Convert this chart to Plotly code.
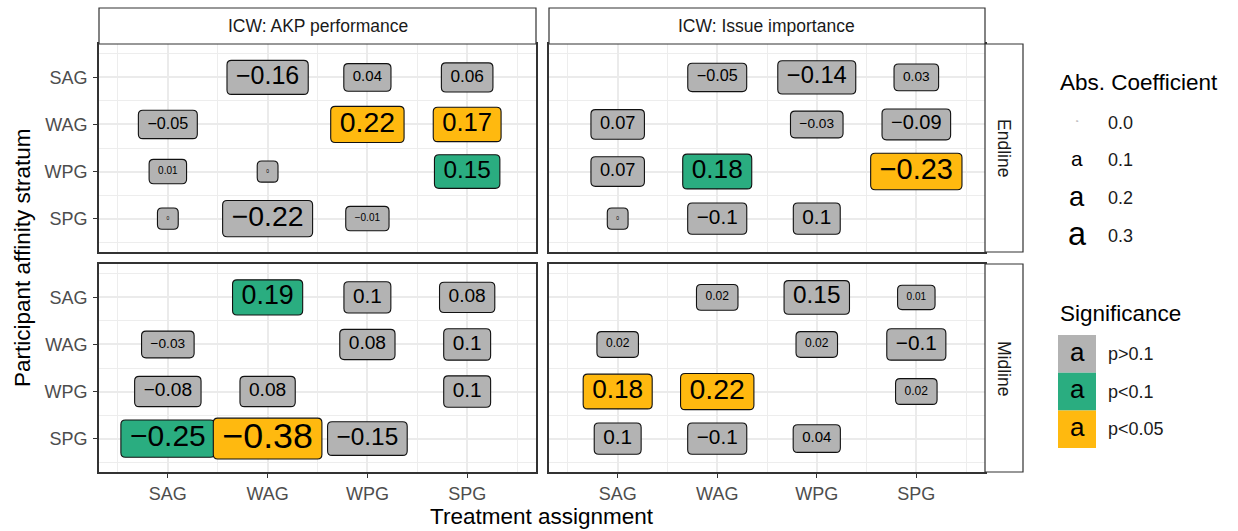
import math
import plotly.graph_objects as go

W, H = 1238, 531
FONT = "Liberation Sans, Arial, sans-serif"

strata = ["SAG", "WAG", "WPG", "SPG"]          # treatment (x) and participant stratum (y)
outcomes = ["ICW: AKP performance", "ICW: Issue importance"]
waves = ["Endline", "Midline"]
sig_levels = ["p>0.1", "p<0.1", "p<0.05"]
sig_colors = {"p>0.1": "#B3B3B3", "p<0.1": "#2AAD80", "p<0.05": "#FFB90F"}
size_legend_values = [0.0, 0.1, 0.2, 0.3]

# rows = participant stratum (SAG, WAG, WPG, SPG); columns = treatment (SAG, WAG, WPG, SPG)
akp_endline_coef = [[None, -0.16, 0.04, 0.06],
                    [-0.05, None, 0.22, 0.17],
                    [0.01, 0.0, None, 0.15],
                    [0.0, -0.22, -0.01, None]]
akp_endline_sig = [[None, "p>0.1", "p>0.1", "p>0.1"],
                   ["p>0.1", None, "p<0.05", "p<0.05"],
                   ["p>0.1", "p>0.1", None, "p<0.1"],
                   ["p>0.1", "p>0.1", "p>0.1", None]]

issue_endline_coef = [[None, -0.05, -0.14, 0.03],
                      [0.07, None, -0.03, -0.09],
                      [0.07, 0.18, None, -0.23],
                      [0.0, -0.1, 0.1, None]]
issue_endline_sig = [[None, "p>0.1", "p>0.1", "p>0.1"],
                     ["p>0.1", None, "p>0.1", "p>0.1"],
                     ["p>0.1", "p<0.1", None, "p<0.05"],
                     ["p>0.1", "p>0.1", "p>0.1", None]]

akp_midline_coef = [[None, 0.19, 0.1, 0.08],
                    [-0.03, None, 0.08, 0.1],
                    [-0.08, 0.08, None, 0.1],
                    [-0.25, -0.38, -0.15, None]]
akp_midline_sig = [[None, "p<0.1", "p>0.1", "p>0.1"],
                   ["p>0.1", None, "p>0.1", "p>0.1"],
                   ["p>0.1", "p>0.1", None, "p>0.1"],
                   ["p<0.1", "p<0.05", "p>0.1", None]]

issue_midline_coef = [[None, 0.02, 0.15, 0.01],
                      [0.02, None, 0.02, -0.1],
                      [0.18, 0.22, None, 0.02],
                      [0.1, -0.1, 0.04, None]]
issue_midline_sig = [[None, "p>0.1", "p>0.1", "p>0.1"],
                     ["p>0.1", None, "p>0.1", "p>0.1"],
                     ["p<0.05", "p<0.05", None, "p>0.1"],
                     ["p>0.1", "p>0.1", "p>0.1", None]]

panels = {  # (row, col)
    (0, 0): (akp_endline_coef, akp_endline_sig),
    (0, 1): (issue_endline_coef, issue_endline_sig),
    (1, 0): (akp_midline_coef, akp_midline_sig),
    (1, 1): (issue_midline_coef, issue_midline_sig),
}

# ---------- layout geometry (pixels) ----------
def fx(px):
    return px / W


def fy(py):
    return 1 - py / H


col_px = [(99, 536), (549, 985)]
row_px = [(44, 252), (264, 472)]
strip_top = (8, 44)
strip_right = (985, 1023)


def fsize(v):
    return 5 + 50 * math.sqrt(abs(v))


def fmt(v):
    s = f"{abs(v):g}"
    return ("\u2212" + s) if v < 0 else s


CW = {"0": 0.556, "1": 0.556, "2": 0.556, "3": 0.556, "4": 0.556, "5": 0.556,
      "6": 0.556, "7": 0.556, "8": 0.556, "9": 0.556, ".": 0.278, "\u2212": 0.584}


def text_w(s, fs):
    return sum(CW.get(ch, 0.556) for ch in s) * fs


def rrect_path(w, h, r=4.5):
    x0, x1, y0, y1 = -w / 2, w / 2, -h / 2, h / 2
    p = (f"M{x0 + r:.2f},{y0:.2f} L{x1 - r:.2f},{y0:.2f} Q{x1:.2f},{y0:.2f} {x1:.2f},{y0 + r:.2f} "
         f"L{x1:.2f},{y1 - r:.2f} Q{x1:.2f},{y1:.2f} {x1 - r:.2f},{y1:.2f} "
         f"L{x0 + r:.2f},{y1:.2f} Q{x0:.2f},{y1:.2f} {x0:.2f},{y1 - r:.2f} "
         f"L{x0:.2f},{y0 + r:.2f} Q{x0:.2f},{y0:.2f} {x0 + r:.2f},{y0:.2f} Z")
    return p


def ann(text, px, py, size, color="black", xanchor="center", yanchor="middle", angle=0):
    return dict(text=text, xref="paper", yref="paper", x=fx(px), y=fy(py),
                xanchor=xanchor, yanchor=yanchor, textangle=angle, showarrow=False,
                font=dict(size=size, color=color, family=FONT))


fig = go.Figure()
shapes = []
annotations = []

pos = {s: i + 1 for i, s in enumerate(strata)}
for (r, c), (coef, sig) in panels.items():
    k = r * 2 + c + 1
    xa = "x" if k == 1 else f"x{k}"
    ya = "y" if k == 1 else f"y{k}"
    xs, ys, txt, sizes = [], [], [], []
    for i, ystr in enumerate(strata):
        for j, xstr in enumerate(strata):
            v = coef[i][j]
            if v is None:
                continue
            lab = fmt(v)
            fs = fsize(v)
            xs.append(pos[xstr])
            ys.append(pos[ystr])
            txt.append(lab)
            sizes.append(fs)
            w = text_w(lab, fs) + 18
            h = 18 + 0.64 * fs
            shapes.append(dict(type="path", xref=xa, yref=ya, xsizemode="pixel", ysizemode="pixel",
                               xanchor=pos[xstr], yanchor=pos[ystr], path=rrect_path(w, h),
                               fillcolor=sig_colors[sig[i][j]], line=dict(color="#111111", width=1.1),
                               layer="between"))
    fig.add_trace(go.Scatter(x=xs, y=ys, mode="text", text=txt, xaxis=xa, yaxis=ya,
                             textposition="middle center", cliponaxis=False, hoverinfo="skip",
                             textfont=dict(size=sizes, color="black", family=FONT)))

    common = dict(showline=True, mirror=True, linecolor="#333333", linewidth=1.8,
                  showgrid=True, gridcolor="#EBEBEB", gridwidth=1.6, zeroline=False,
                  tickvals=[1, 2, 3, 4], ticktext=strata, ticklen=4, tickcolor="#333333",
                  tickwidth=1.2, tickfont=dict(size=18, color="#4D4D4D", family=FONT),
                  minor=dict(tickvals=[0.5, 1.5, 2.5, 3.5, 4.5], showgrid=True,
                             gridcolor="#EDEDED", gridwidth=0.9, ticks=""))
    xkey = "xaxis" if k == 1 else f"xaxis{k}"
    ykey = "yaxis" if k == 1 else f"yaxis{k}"
    fig.update_layout({
        xkey: dict(common, domain=[fx(col_px[c][0]), fx(col_px[c][1])], anchor=ya,
                   range=[0.31, 4.69], showticklabels=(r == 1),
                   ticks="outside" if r == 1 else "", ticklabelstandoff=0),
        ykey: dict(common, domain=[fy(row_px[r][1]), fy(row_px[r][0])], anchor=xa,
                   range=[4.71, 0.29], showticklabels=(c == 0),
                   ticks="outside" if c == 0 else "", ticklabelstandoff=2),
    })

# strips
for c, name in enumerate(outcomes):
    shapes.append(dict(type="rect", xref="paper", yref="paper",
                       x0=fx(col_px[c][0]), x1=fx(col_px[c][1]),
                       y0=fy(strip_top[1]), y1=fy(strip_top[0]),
                       fillcolor="white", line=dict(color="#333333", width=1.2), layer="above"))
    annotations.append(ann(name, (col_px[c][0] + col_px[c][1]) / 2, sum(strip_top) / 2,
                           17.5, "#1A1A1A"))
for r, name in enumerate(waves):
    shapes.append(dict(type="rect", xref="paper", yref="paper",
                       x0=fx(strip_right[0]), x1=fx(strip_right[1]),
                       y0=fy(row_px[r][1]), y1=fy(row_px[r][0]),
                       fillcolor="white", line=dict(color="#333333", width=1.2), layer="above"))
    annotations.append(ann(name, sum(strip_right) / 2, sum(row_px[r]) / 2, 17.5, "#1A1A1A",
                           angle=90))

# axis titles
annotations.append(ann("Treatment assignment", (col_px[0][0] + col_px[1][1]) / 2, 516, 22.5))
annotations.append(ann("Participant affinity stratum", 22, (row_px[0][0] + row_px[1][1]) / 2,
                       22.5, angle=-90))

# legend: size
annotations.append(ann("Abs. Coefficient", 1058, 83, 22.5, xanchor="left"))
for v, py in zip(size_legend_values, [123, 160, 198, 236]):
    annotations.append(ann("a", 1077, py - 2, fsize(v) if v > 0 else 4,
                           "black" if v > 0 else "#888888"))
    annotations.append(ann(f"{v:.1f}", 1106, py, 18, "#1A1A1A", xanchor="left"))

# legend: significance
annotations.append(ann("Significance", 1058, 313, 22.5, xanchor="left"))
for i, lev in enumerate(sig_levels):
    top = 335 + i * 37.7
    shapes.append(dict(type="rect", xref="paper", yref="paper", x0=fx(1058), x1=fx(1096),
                       y0=fy(top + 37.7), y1=fy(top), fillcolor=sig_colors[lev], line=dict(width=0)))
    annotations.append(ann("a", 1077, top + 16.5, 26))
    annotations.append(ann(lev, 1106, top + 19, 18, "#1A1A1A", xanchor="left"))

fig.update_layout(width=W, height=H, margin=dict(l=0, r=0, t=0, b=0),
                  paper_bgcolor="white", plot_bgcolor="white", showlegend=False,
                  font=dict(family=FONT), shapes=shapes, annotations=annotations)

fig.write_html("out.html")
